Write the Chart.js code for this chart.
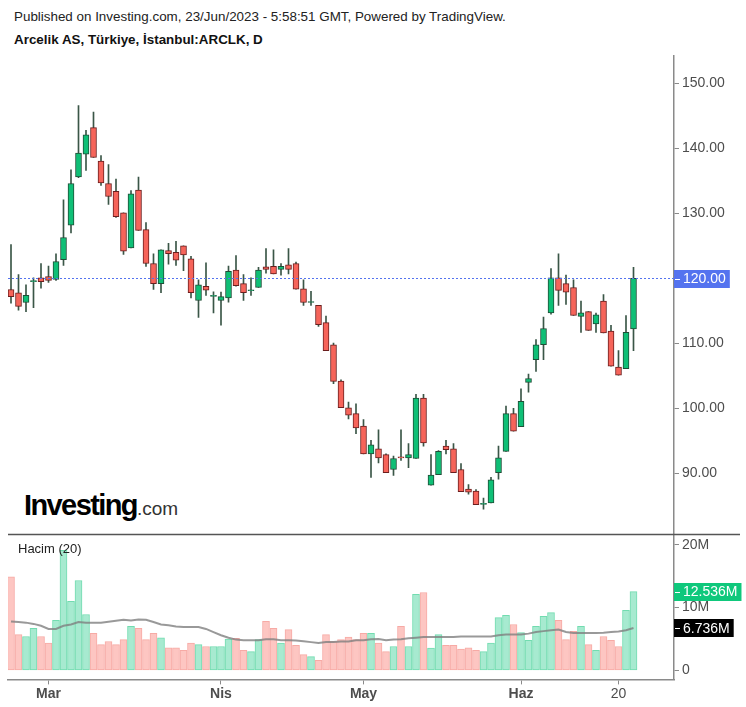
<!DOCTYPE html>
<html>
<head>
<meta charset="utf-8">
<script src="https://cdn.jsdelivr.net/npm/chart.js@4.4.0/dist/chart.umd.min.js"></script>
<style>
  body { margin: 0; background: #fff; font-family: "Liberation Sans", Arial, sans-serif; }
  #page { position: relative; width: 746px; height: 707px; overflow: hidden; }
  .abs { position: absolute; white-space: nowrap; }
  #priceBox { left: 0; top: 47px; width: 746px; height: 495px; }
  #volBox { left: 0; top: 526px; width: 746px; height: 180px; }
</style>
</head>
<body>
<div id="page">
  <div class="abs" style="left:14px;top:9px;font-size:13.4px;color:#222;">Published on Investing.com, 23/Jun/2023 - 5:58:51 GMT, Powered by TradingView.</div>
  <div class="abs" style="left:14px;top:32px;font-size:13.4px;font-weight:bold;color:#111;">Arcelik AS, Türkiye, İstanbul:ARCLK, D</div>
  <div class="abs" style="left:24px;top:491px;line-height:29px;"><span style="font-size:29px;font-weight:bold;letter-spacing:-1.6px;color:#000;">Investing</span><span style="font-size:19px;color:#333;">.com</span></div>
  <div class="abs" id="priceBox"><canvas id="price"></canvas></div>
  <div class="abs" id="volBox"><canvas id="vol"></canvas></div>
  <div class="abs" style="left:18px;top:541px;font-size:13px;color:#222;">Hacim (20)</div>
</div>
<script>
// trading days, Feb 22 - Jun 22 2023
const dates = [
  "22.02","23.02","24.02","27.02","28.02",
  "01.03","02.03","03.03","06.03","07.03","08.03","09.03","10.03","13.03","14.03","15.03","16.03","17.03",
  "20.03","21.03","22.03","23.03","24.03","27.03","28.03","29.03","30.03","31.03",
  "03.04","04.04","05.04","06.04","07.04","10.04","11.04","12.04","13.04","14.04","17.04","18.04","19.04",
  "20.04","24.04","25.04","26.04","27.04","28.04",
  "02.05","03.05","04.05","05.05","08.05","09.05","10.05","11.05","12.05","15.05","16.05","17.05","18.05",
  "22.05","23.05","24.05","25.05","26.05","29.05","30.05","31.05",
  "01.06","02.06","05.06","06.06","07.06","08.06","09.06","12.06","13.06","14.06","15.06","16.06",
  "19.06","20.06","21.06","22.06"
];

const open = [
  118.3, 117.8, 116.3, 119.5, 120.1, 120.3, 119.85, 122.9, 128.2, 135.6,
  139.1, 143.2, 138.05, 134.6, 133.4, 130.1, 124.7, 133.6, 127.5, 122.3,
  119.2, 124.3, 124.0, 125.0, 123.0, 116.6, 118.8, 117.25, 116.6, 117.0,
  121.3, 119.2, 118.1, 118.6, 121.8, 121.85, 121.4, 122.1, 122.3, 118.4,
  116.3, 115.85, 113.2, 109.8, 104.2, 100.1, 99.2, 97.3, 93.0, 93.8,
  92.9, 90.6, 92.55, 92.4, 92.3, 101.6, 88.2, 89.8, 94.2, 93.8,
  90.6, 87.6, 87.3, 85.25, 85.45, 90.1, 93.4, 99.2, 97.2, 104.0,
  107.5, 109.8, 114.7, 120.1, 119.2, 118.6, 114.15, 114.9, 113.0, 116.5,
  111.9, 106.35, 106.1, 112.25
];
const high = [
  125.2, 120.6, 119.0, 120.1, 122.3, 121.9, 123.8, 132.1, 136.7, 146.6,
  142.8, 145.6, 138.9, 137.5, 135.3, 130.1, 133.5, 135.6, 128.6, 123.8,
  124.4, 125.4, 125.7, 125.0, 123.4, 119.8, 122.4, 117.95, 117.9, 121.9,
  123.5, 120.6, 120.1, 121.7, 124.6, 124.4, 122.3, 124.6, 122.5, 119.8,
  118.0, 115.85, 114.2, 110.05, 104.4, 100.97, 100.7, 98.3, 95.1, 96.7,
  93.0, 92.65, 96.7, 94.6, 102.15, 102.15, 92.9, 93.5, 95.1, 94.6,
  91.5, 88.3, 87.5, 86.2, 89.4, 94.2, 100.35, 100.0, 103.0, 105.3,
  110.6, 114.05, 121.5, 123.8, 120.5, 119.8, 116.5, 114.9, 114.65, 117.5,
  112.8, 108.9, 114.3, 121.7
];
const low = [
  116.2, 115.1, 114.9, 115.5, 118.5, 119.4, 119.7, 122.0, 127.0, 135.5,
  136.6, 138.6, 134.3, 131.4, 129.4, 123.7, 124.7, 127.4, 121.85, 118.3,
  117.8, 122.2, 122.0, 121.2, 117.0, 114.0, 117.4, 114.7, 112.8, 116.35,
  118.8, 116.6, 117.4, 118.6, 120.8, 120.7, 120.5, 120.7, 118.35, 115.85,
  115.85, 112.6, 108.9, 103.8, 100.1, 98.4, 96.1, 93.0, 89.4, 91.6,
  90.1, 89.7, 92.0, 90.9, 92.3, 94.2, 88.2, 89.8, 93.0, 90.1,
  87.2, 86.8, 85.2, 84.5, 85.45, 89.1, 93.4, 96.5, 97.2, 102.5,
  105.7, 107.5, 114.5, 115.85, 116.0, 114.3, 111.7, 112.0, 111.7, 111.6,
  106.5, 105.1, 106.1, 108.9
];
const close = [
  117.2, 115.7, 117.4, 119.65, 119.5, 119.7, 122.6, 126.3, 134.6, 139.3,
  142.1, 138.6, 134.7, 132.6, 129.5, 124.2, 133.0, 127.4, 122.3, 119.2,
  124.4, 123.8, 122.8, 123.6, 117.8, 119.0, 118.2, 117.4, 117.2, 121.1,
  118.9, 117.8, 118.25, 121.3, 121.4, 120.7, 121.85, 121.4, 118.35, 116.3,
  116.45, 112.9, 108.9, 104.15, 100.1, 98.97, 97.0, 93.0, 94.4, 92.4,
  90.1, 92.3, 92.4, 92.9, 101.6, 94.7, 89.75, 93.4, 93.65, 90.1,
  87.2, 87.1, 85.2, 85.4, 89.0, 92.4, 99.2, 96.5, 101.1, 104.6,
  109.8, 112.3, 120.1, 118.15, 117.9, 114.3, 114.7, 112.0, 114.4, 111.6,
  106.5, 105.1, 111.7, 120.0
];
// volume in millions
const volume = [
  14.9, 5.7, 5.4, 6.7, 5.4, 4.35, 7.96, 19.1, 11.0, 14.3,
  8.9, 5.9, 4.1, 4.6, 4.1, 4.9, 7.0, 6.7, 4.9, 5.9,
  5.2, 3.6, 3.6, 3.2, 4.35, 4.1, 3.8, 3.8, 3.8, 5.0,
  5.1, 3.2, 3.0, 4.9, 7.8, 6.7, 4.35, 6.5, 4.0, 2.5,
  2.2, 1.6, 5.7, 4.6, 4.9, 5.3, 4.9, 5.9, 5.9, 4.35,
  3.0, 3.8, 7.0, 3.8, 12.1, 12.4, 3.55, 5.7, 4.0, 4.0,
  3.4, 3.6, 3.2, 3.0, 4.35, 8.4, 8.75, 7.3, 6.0, 4.8,
  7.0, 8.6, 9.2, 7.96, 4.9, 6.2, 7.0, 4.1, 3.2, 5.4,
  4.8, 3.8, 9.55, 12.536
];
// 20-day volume average as shown
const volumeMA = [
  7.8, 7.7, 7.6, 7.4, 7.1, 6.6, 6.6, 7.1, 7.3, 7.7,
  7.6, 7.6, 7.6, 7.75, 7.9, 8.07, 7.95, 8.1, 8.07, 7.7,
  7.3, 7.2, 7.0, 6.9, 6.9, 6.9, 6.6, 6.1, 5.6, 5.2,
  4.9, 4.8, 4.8, 4.8, 4.95, 4.95, 4.8, 4.8, 4.75, 4.65,
  4.5, 4.35, 4.5, 4.5, 4.6, 4.6, 4.8, 4.8, 4.95, 5.0,
  4.8, 4.9, 4.95, 5.1, 5.2, 5.3, 5.3, 5.3, 5.3, 5.3,
  5.4, 5.4, 5.4, 5.4, 5.4, 5.6, 5.7, 5.7, 5.7, 5.85,
  6.1, 6.25, 6.4, 6.5, 6.1, 5.95, 5.95, 5.95, 5.95, 6.0,
  6.1, 6.2, 6.4, 6.736
];
const priceTicks = [90, 100, 110, 120, 130, 140, 150];
const volumeTicks = [0, 10, 20];
const dateTicks = ["01.03", "03.04", "02.05", "01.06", "20.06"];
const dateTickText = ["Mar", "Nis", "May", "Haz", "20"];

const FONT = '"Liberation Sans", Arial, sans-serif';
Chart.defaults.font.family = FONT;
const AXIS = "#8a8a8a";
const TXT = "#4d4d4d";
const up = close.map((c, i) => c >= open[i]);

function labelBox(ctx, x, y, text, bg) {
  ctx.save();
  ctx.font = "14px " + FONT;
  const w = ctx.measureText(text).width;
  ctx.fillStyle = bg;
  ctx.fillRect(x, Math.round(y) - 9, w + 13, 18);
  ctx.strokeStyle = "#fff";
  ctx.lineWidth = 1;
  ctx.beginPath();
  ctx.moveTo(x + 1, Math.round(y) + 0.5);
  ctx.lineTo(x + 6, Math.round(y) + 0.5);
  ctx.stroke();
  ctx.fillStyle = "#fff";
  ctx.textBaseline = "middle";
  ctx.fillText(text, x + 9, y + 1);
  ctx.restore();
}

const priceChart = new Chart(document.getElementById("price"), {
  type: "bar",
  data: {
    datasets: [
      {
        label: "body",
        order: 0,
        grouped: false,
        data: dates.map((d, i) => ({ x: i, y: [Math.min(open[i], close[i]), Math.max(open[i], close[i])] })),
        backgroundColor: up.map(u => (u ? "#0fbf76" : "#f6645a")),
        borderColor: up.map(u => (u ? "#1f4d36" : "#6a1e1e")),
        borderWidth: 1,
        borderSkipped: false,
        barThickness: 6
      },
      {
        label: "wick",
        order: 1,
        grouped: false,
        data: dates.map((d, i) => ({ x: i, y: [low[i], high[i]] })),
        backgroundColor: "#3a5647",
        borderWidth: 0,
        barThickness: 1
      }
    ]
  },
  options: {
    animation: false,
    responsive: true,
    maintainAspectRatio: false,
    layout: { padding: { left: 8 } },
    plugins: { legend: { display: false }, tooltip: { enabled: false } },
    scales: {
      x: { type: "linear", min: -0.4, max: 88.4, offset: false, display: false },
      y: {
        position: "right",
        min: 80.62,
        max: 154.31,
        afterFit: s => { s.width = 72; },
        afterBuildTicks: s => { s.ticks = priceTicks.map(v => ({ value: v })); },
        ticks: { callback: v => v.toFixed(2), color: TXT, font: { size: 14 }, padding: 3 },
        grid: { drawOnChartArea: false, tickLength: 5, color: AXIS },
        border: { color: AXIS, width: 1.5 }
      }
    }
  },
  plugins: [{
    id: "lastPrice",
    afterDraw(chart) {
      const ctx = chart.ctx, a = chart.chartArea;
      const last = close[close.length - 1];
      const y = Math.round(chart.scales.y.getPixelForValue(last)) + 0.5;
      ctx.save();
      ctx.strokeStyle = "#5473ef";
      ctx.lineWidth = 1;
      ctx.setLineDash([2, 2]);
      ctx.beginPath();
      ctx.moveTo(a.left, y);
      ctx.lineTo(a.right, y);
      ctx.stroke();
      ctx.restore();
      labelBox(ctx, a.right, y, last.toFixed(2), "#5473ef");
    }
  }]
});

const volChart = new Chart(document.getElementById("vol"), {
  type: "bar",
  data: {
    datasets: [
      {
        type: "line",
        label: "Hacim (20)",
        order: 0,
        data: volumeMA.map((v, i) => ({ x: i, y: v })),
        borderColor: "rgba(128,128,128,0.8)",
        borderWidth: 2,
        pointRadius: 0,
        tension: 0
      },
      {
        label: "Hacim",
        order: 1,
        data: volume.map((v, i) => ({ x: i, y: v })),
        backgroundColor: up.map(u => (u ? "#a7ead0" : "#fdc6c2")),
        borderColor: up.map(u => (u ? "#72dcb0" : "#f7aaa5")),
        borderWidth: 1,
        borderSkipped: false,
        barThickness: 7
      }
    ]
  },
  options: {
    animation: false,
    responsive: true,
    maintainAspectRatio: false,
    layout: { padding: { left: 8 } },
    plugins: { legend: { display: false }, tooltip: { enabled: false } },
    scales: {
      x: {
        type: "linear",
        min: -0.4,
        max: 88.4,
        offset: false,
        afterBuildTicks: s => { s.ticks = dateTicks.map(d => ({ value: dates.indexOf(d) })); },
        ticks: {
          autoSkip: false,
          maxRotation: 0,
          padding: 1,
          color: TXT,
          callback: v => dateTickText[dateTicks.indexOf(dates[v])],
          font: c => ({ size: 14, weight: dateTickText[c.index] === "20" ? "normal" : "bold" })
        },
        grid: { offset: false, drawOnChartArea: false, tickLength: 5, color: AXIS },
        border: { color: AXIS, width: 1.5 }
      },
      y: {
        position: "right",
        min: -1.432,
        max: 21.64,
        afterFit: s => { s.width = 72; },
        afterBuildTicks: s => { s.ticks = volumeTicks.map(v => ({ value: v })); },
        ticks: { callback: v => (v === 0 ? "0" : v + "M"), color: TXT, font: { size: 14 }, padding: 3 },
        grid: { drawOnChartArea: false, tickLength: 5, color: AXIS },
        border: { color: AXIS, width: 1.5 }
      }
    }
  },
  plugins: [{
    id: "volLabels",
    afterDraw(chart) {
      const ctx = chart.ctx, a = chart.chartArea, y = chart.scales.y;
      ctx.save();
      ctx.strokeStyle = "#555";
      ctx.lineWidth = 1.5;
      ctx.beginPath();
      ctx.moveTo(a.left, a.top);
      ctx.lineTo(740, a.top);
      ctx.stroke();
      ctx.restore();
      const v = volume[volume.length - 1], m = volumeMA[volumeMA.length - 1];
      labelBox(ctx, a.right, y.getPixelForValue(v), v.toFixed(3) + "M", "#0fc87c");
      labelBox(ctx, a.right, y.getPixelForValue(m), m.toFixed(3) + "M", "#000");
    }
  }]
});

// line the plot areas up with the panes of the picture
function place(chart, box, top, height) {
  const a = chart.chartArea;
  box.style.top = (top - a.top) + "px";
  box.style.height = (height + a.top + (chart.height - a.bottom)) + "px";
  chart.resize();
}
place(priceChart, document.getElementById("priceBox"), 55, 479);
place(volChart, document.getElementById("volBox"), 534, 145);
</script>
</body>
</html>
